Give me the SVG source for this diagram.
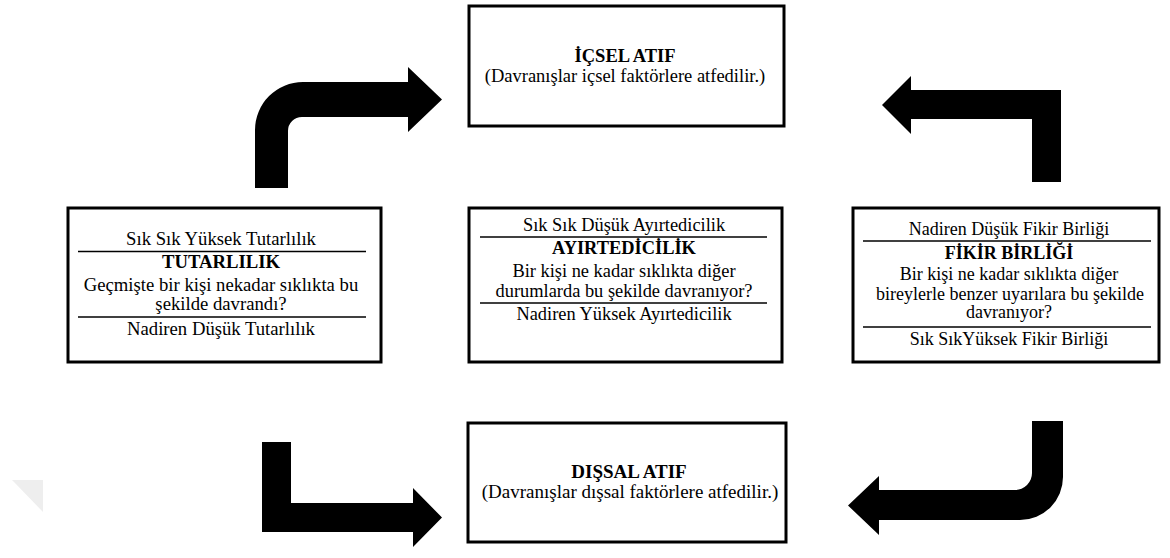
<svg xmlns="http://www.w3.org/2000/svg" width="1170" height="558" viewBox="0 0 1170 558">
<style>
.box{fill:#fff;stroke:#000;stroke-width:3}
.sep{stroke:#000;stroke-width:1.3}
.t text{fill:#000;text-anchor:middle}
.b{font-weight:bold}
.arr{fill:#000}
</style>
<rect width="1170" height="558" fill="#fff"/>
<polygon points="12,480 43,480 43,512" fill="#eeeeee"/>
<g id="connectors">
<path class="arr" d="M255,188 V130 A48,48 0 0 1 303,82 H408 V67 L442,99.5 L408,132 V117 H302 A14,14 0 0 0 288,131 V188 Z"/>
<path class="arr" d="M1061,182 V90 H911 V76 L882,105 L911,134 V119 H1032 V182 Z"/>
<path class="arr" d="M262,442 H291 V503 H413 V488 L442,517.5 L413,547 V532 H262 Z"/>
<path class="arr" d="M1032,421 H1063 V477 A43,43 0 0 1 1020,520 H879 V535 L848,505.5 L879,476 V490 H1015 A17,17 0 0 0 1032,473 Z"/>
</g>
<g class="t" font-family="'Liberation Serif', 'Times New Roman', 'DejaVu Serif', serif">
<g id="icsel" font-size="18.5">
<rect class="box" x="469" y="6" width="315" height="120"/>
<text class="b" x="625" y="62">İÇSEL ATIF</text>
<text x="625" y="82">(Davranışlar içsel faktörlere atfedilir.)</text>
</g>
<g id="dissal" font-size="19">
<rect class="box" x="468" y="423" width="318" height="119"/>
<text class="b" x="629" y="478">DIŞSAL ATIF</text>
<text x="630" y="498">(Davranışlar dışsal faktörlere atfedilir.)</text>
</g>
<g id="tutarlilik" font-size="18.7">
<rect class="box" x="68" y="208" width="313" height="154"/>
<text x="221" y="245">Sık Sık Yüksek Tutarlılık</text>
<line class="sep" x1="78" y1="251.5" x2="366" y2="251.5"/>
<text class="b" x="221" y="268">TUTARLILIK</text>
<text x="221" y="291">Geçmişte bir kişi nekadar sıklıkta bu</text>
<text x="221" y="310">şekilde davrandı?</text>
<line class="sep" x1="78" y1="317" x2="366" y2="317"/>
<text x="221" y="335">Nadiren Düşük Tutarlılık</text>
</g>
<g id="ayirtedicilik" font-size="18.4">
<rect class="box" x="469" y="208" width="313" height="154"/>
<text x="624" y="231">Sık Sık Düşük Ayırtedicilik</text>
<line class="sep" x1="480" y1="237" x2="767" y2="237"/>
<text class="b" x="624" y="254">AYIRTEDİCİLİK</text>
<text x="624" y="277">Bir kişi ne kadar sıklıkta diğer</text>
<text x="624" y="297">durumlarda bu şekilde davranıyor?</text>
<line class="sep" x1="480" y1="303" x2="767" y2="303"/>
<text x="624" y="320">Nadiren Yüksek Ayırtedicilik</text>
</g>
<g id="fikirbirligi" font-size="18">
<rect class="box" x="853" y="208" width="306" height="154"/>
<text x="1009" y="235">Nadiren Düşük Fikir Birliği</text>
<line class="sep" x1="863" y1="241" x2="1151" y2="241"/>
<text class="b" x="1009" y="259">FİKİR BİRLİĞİ</text>
<text x="1009" y="280">Bir kişi ne kadar sıklıkta diğer</text>
<text x="1010" y="300">bireylerle benzer uyarılara bu şekilde</text>
<text x="1009" y="318">davranıyor?</text>
<line class="sep" x1="863" y1="327" x2="1151" y2="327"/>
<text x="1009" y="345">Sık SıkYüksek Fikir Birliği</text>
</g>
</g>
</svg>
